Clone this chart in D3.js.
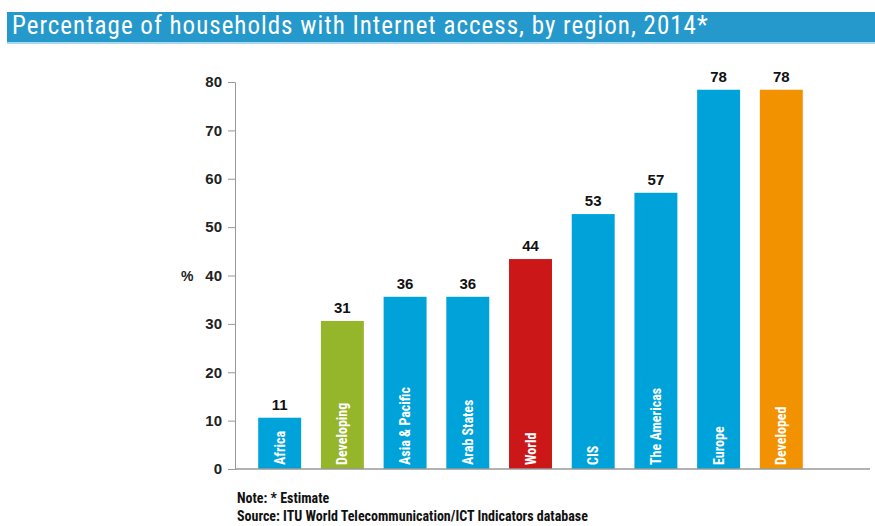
<!DOCTYPE html>
<html>
<head>
<meta charset="utf-8">
<script src="https://cdn.jsdelivr.net/npm/d3@7"></script>
<style>
  body { margin: 0; background: #fff; }
  svg { display: block; }
  .narrow { font-family: "Roboto Condensed", "DejaVu Sans Condensed", sans-serif; }
  .arial { font-family: "Liberation Sans", Arial, sans-serif; }
</style>
</head>
<body>
<svg width="875" height="526"></svg>
<script>
// data
var regions = ["Africa", "Developing", "Asia & Pacific", "Arab States", "World", "CIS", "The Americas", "Europe", "Developed"];
var values = [10.6, 30.6, 35.6, 35.6, 43.4, 52.7, 57.1, 78.4, 78.4];
var valueLabels = ["11", "31", "36", "36", "44", "53", "57", "78", "78"];
var barColors = ["#00a2da", "#95b52a", "#00a2da", "#00a2da", "#cc1719", "#00a2da", "#00a2da", "#00a2da", "#f39200"];
var yTicks = [0, 10, 20, 30, 40, 50, 60, 70, 80];

var svg = d3.select("svg");

// title bar
svg.append("rect").attr("x", 7).attr("y", 12).attr("width", 868).attr("height", 30).style("fill", "#2598cc");
svg.append("rect").attr("x", 7).attr("y", 42).attr("width", 868).attr("height", 2).style("fill", "#a9d8ee");
svg.append("text").attr("class", "narrow").attr("x", 12).attr("y", 34)
    .style("font-size", "25px").style("letter-spacing", "1px").style("fill", "#fff")
    .text("Percentage of households with Internet access, by region, 2014*");

var x = d3.scaleBand().domain(regions).range([235, 826]).paddingInner(0.315).paddingOuter(0.37);
var y = d3.scaleLinear().domain([0, 80]).range([469, 82]);

// y axis
var yAxis = svg.append("g").attr("transform", "translate(235,0)")
    .call(d3.axisLeft(y).tickValues(yTicks).tickSize(7).tickPadding(6));
yAxis.select(".domain").style("stroke", "#999");
yAxis.selectAll(".tick line").style("stroke", "#999");
yAxis.selectAll(".tick text").attr("class", "arial")
    .style("font-size", "15px").style("font-weight", "bold").style("fill", "#222");

svg.append("text").attr("class", "arial").attr("x", 181).attr("y", y(40) + 5)
    .style("font-size", "14px").style("font-weight", "bold").style("fill", "#222").text("%");

// bars
svg.selectAll(".bar").data(regions).enter().append("rect").attr("class", "bar")
    .attr("x", function (d) { return x(d); })
    .attr("y", function (d, i) { return y(values[i]); })
    .attr("width", x.bandwidth())
    .attr("height", function (d, i) { return y(0) - y(values[i]); })
    .style("fill", function (d, i) { return barColors[i]; });

// x baseline
svg.append("line").attr("x1", 235).attr("x2", 870).attr("y1", y(0)).attr("y2", y(0))
    .style("stroke", "#999").style("stroke-width", 1.5);

// value labels
svg.selectAll(".val").data(regions).enter().append("text").attr("class", "val arial")
    .attr("x", function (d) { return x(d) + x.bandwidth() / 2; })
    .attr("y", function (d, i) { return y(values[i]) - 8; })
    .attr("text-anchor", "middle")
    .style("font-size", "15px").style("font-weight", "bold").style("fill", "#111")
    .text(function (d, i) { return valueLabels[i]; });

// category names inside bars
svg.selectAll(".cat").data(regions).enter().append("text").attr("class", "cat narrow")
    .attr("transform", function (d) {
        return "translate(" + (x(d) + x.bandwidth() / 2 + 5) + "," + (y(0) - 4) + ") rotate(-90)";
    })
    .style("font-size", "14px").style("font-weight", "bold").style("fill", "#fff")
    .text(function (d) { return d; });

// notes
var note = svg.append("text").attr("class", "narrow").style("font-size", "14px")
    .style("font-weight", "bold").style("fill", "#111");
note.append("tspan").attr("x", 237).attr("y", 503).text("Note: * Estimate");
note.append("tspan").attr("x", 237).attr("y", 521).text("Source: ITU World Telecommunication/ICT Indicators database");
</script>
</body>
</html>
